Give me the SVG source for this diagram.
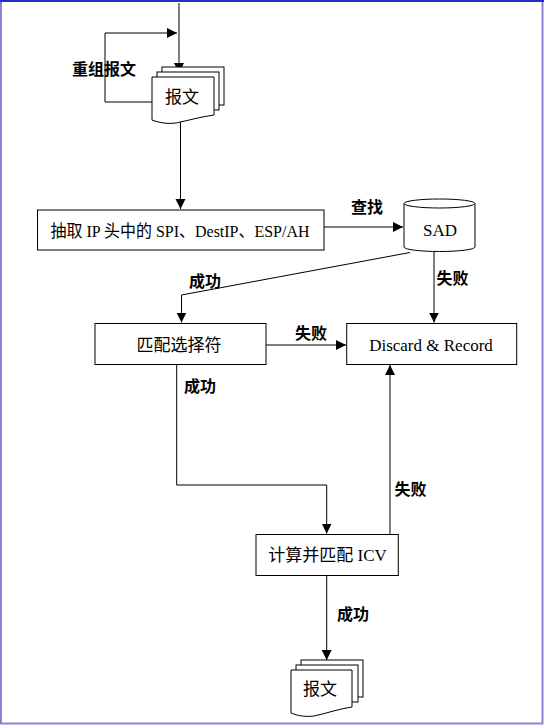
<svg xmlns="http://www.w3.org/2000/svg" width="544" height="727" viewBox="0 0 544 727">
<defs>
<style>
.ln{fill:none;stroke:#000;stroke-width:1}
.bx{fill:#fff;stroke:#000;stroke-width:1}
.t{font-family:'Liberation Serif','Noto Sans CJK SC',serif;font-size:17px;text-anchor:middle;dominant-baseline:central;fill:#000}
.lb{font-family:'Noto Sans CJK SC',sans-serif;font-size:16px;font-weight:bold;text-anchor:middle;dominant-baseline:central;fill:#000}
</style>
<marker id="ah" viewBox="0 0 10 10" refX="10" refY="5" markerWidth="10" markerHeight="11" markerUnits="userSpaceOnUse" orient="auto">
<path d="M0,0 L10,5 L0,10 Z" fill="#000"/>
</marker>
</defs>
<rect x="0" y="0" width="544" height="727" fill="#fff"/>
<rect x="1" y="1" width="541.5" height="722.5" fill="none" stroke="#8484d4" stroke-width="2"/>
<line x1="0" y1="1" x2="544" y2="1" stroke="#2a2ac4" stroke-width="2"/>

<g id="connectors">
<path class="ln" d="M179,3 V73" marker-end="url(#ah)"/>
<path class="ln" d="M152,102 H105 V33 H177" marker-end="url(#ah)"/>
<path class="ln" d="M180.5,122 V209" marker-end="url(#ah)"/>
<path class="ln" d="M324,227 H403" marker-end="url(#ah)"/>
<path class="ln" d="M410,252.5 L181.5,295 V322.5" marker-end="url(#ah)"/>
<path class="ln" d="M434,251 V322.5" marker-end="url(#ah)"/>
<path class="ln" d="M266,345 H346" marker-end="url(#ah)"/>
<path class="ln" d="M176.7,364.5 V485 H326.7 V533.5" marker-end="url(#ah)"/>
<path class="ln" d="M390,534 V365" marker-end="url(#ah)"/>
<path class="ln" d="M326.7,575.5 V660" marker-end="url(#ah)"/>
<text class="lb" x="104" y="68">重组报文</text>
<text class="lb" x="367" y="206">查找</text>
<text class="lb" x="205" y="280">成功</text>
<text class="lb" x="452.5" y="277">失败</text>
<text class="lb" x="311" y="332">失败</text>
<text class="lb" x="200" y="385">成功</text>
<text class="lb" x="410.5" y="488">失败</text>
<text class="lb" x="353" y="613">成功</text>
</g>

<g id="doc-top">
<rect class="bx" x="162" y="67" width="62" height="38"/>
<rect class="bx" x="157" y="72" width="62" height="38"/>
<path class="bx" d="M152,77 H214 V115 C200,117 190,120 176,123 C168,124 160,123 152,120 Z"/>
<text class="t" x="182" y="97">报文</text>
</g>

<g id="extract">
<rect class="bx" x="37.5" y="210" width="286.5" height="40"/>
<text class="t" x="180" y="231" textLength="259" lengthAdjust="spacingAndGlyphs">抽取 IP 头中的 SPI、DestIP、ESP/AH</text>
</g>

<g id="sad">
<path class="bx" d="M404,203.5 V247 A35.5,4.5 0 0 0 475,247 V203.5"/>
<ellipse class="bx" cx="439.5" cy="203.5" rx="35.5" ry="4.5"/>
<text class="t" x="440" y="230">SAD</text>
</g>

<g id="match">
<rect class="bx" x="95" y="323.5" width="171" height="41"/>
<text class="t" x="179" y="345">匹配选择符</text>
</g>

<g id="discard">
<rect class="bx" x="346.7" y="323.5" width="170" height="41"/>
<text class="t" x="431" y="345">Discard &amp; Record</text>
</g>

<g id="icv">
<rect class="bx" x="256" y="534.5" width="142.3" height="41"/>
<text class="t" x="327.5" y="555">计算并匹配 ICV</text>
</g>

<g id="doc-bottom">
<rect class="bx" x="301" y="660" width="62" height="37"/>
<rect class="bx" x="296" y="665" width="62" height="37"/>
<path class="bx" d="M291,670 H352 V707 C338,709 328,713 314,716 C306,717 298,716 291,713 Z"/>
<text class="t" x="320" y="689">报文</text>
</g>
</svg>
